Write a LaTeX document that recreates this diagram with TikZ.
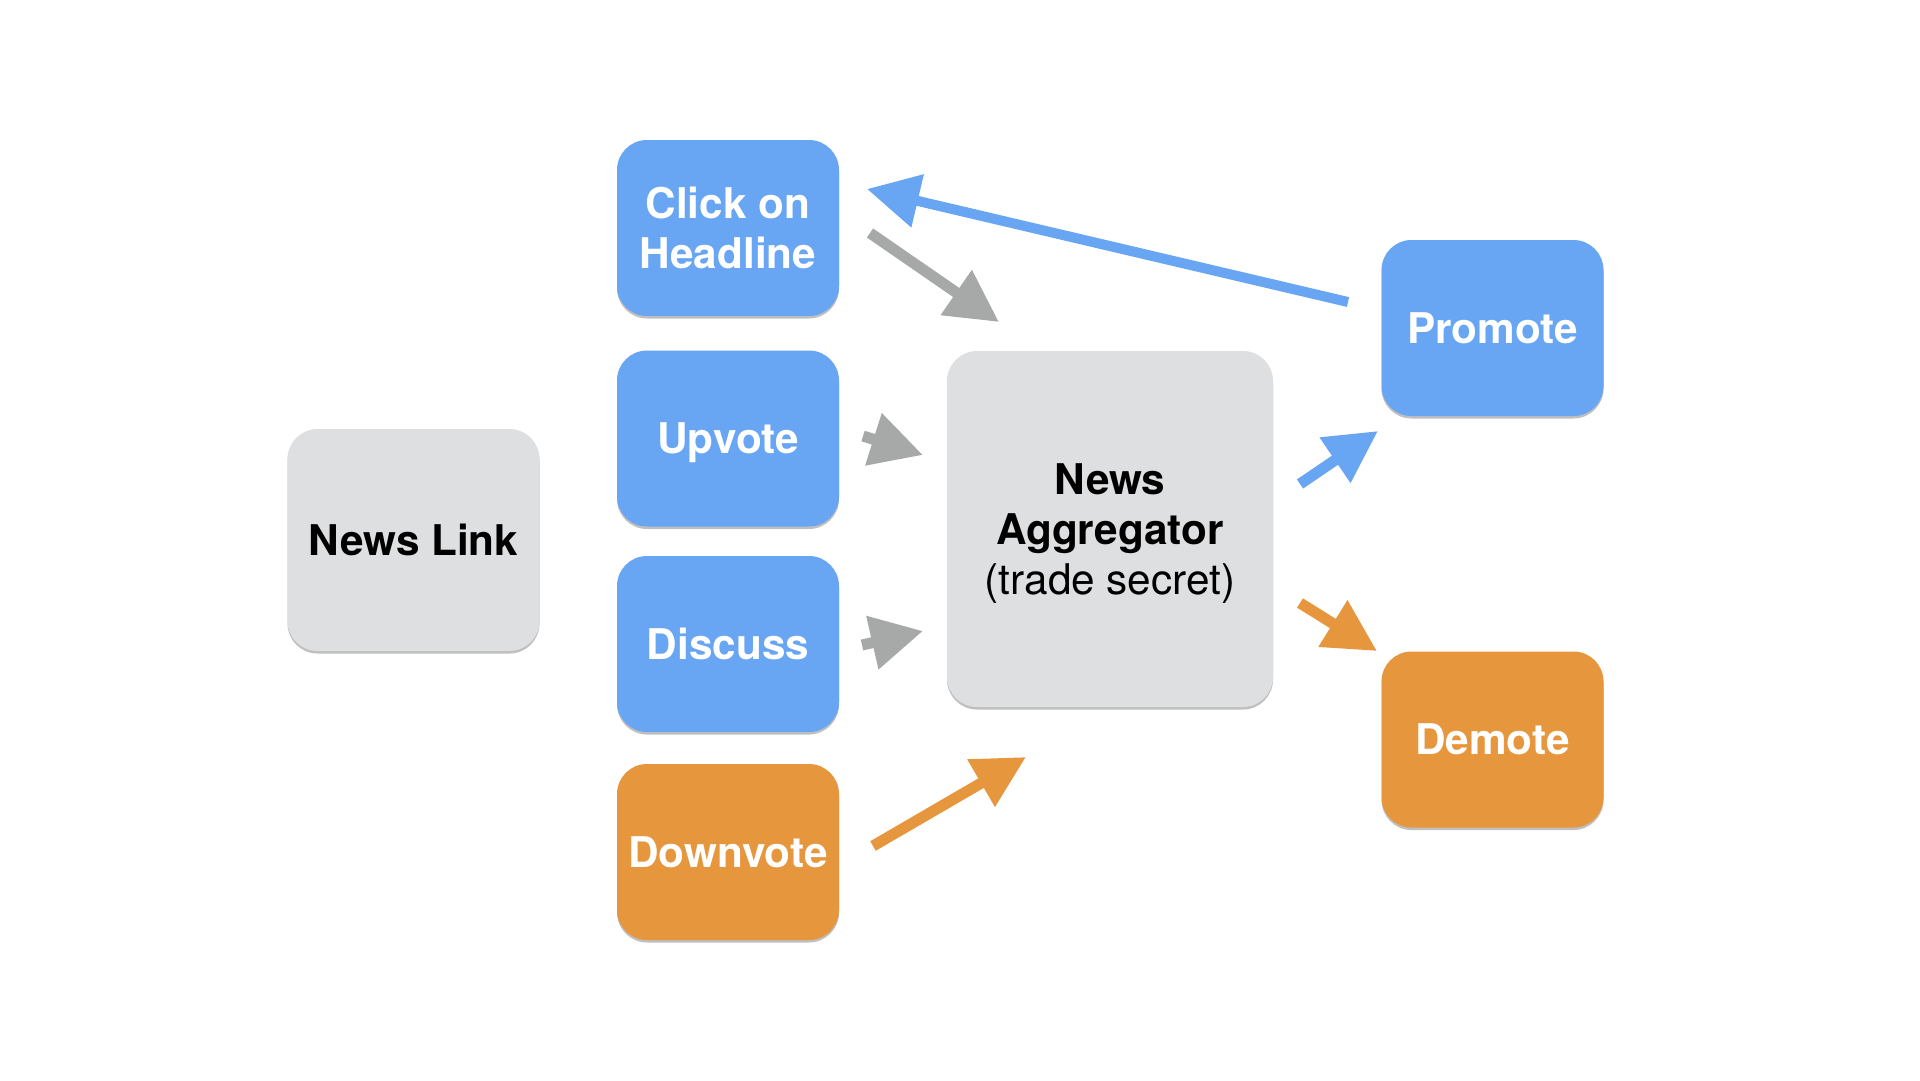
\documentclass[tikz,border=0pt]{standalone}
\usepackage{fontspec}
\setmainfont{TeX Gyre Heros}
\usetikzlibrary{arrows.meta,shadows}
\definecolor{boxblue}{RGB}{104,165,242}
\definecolor{boxorange}{RGB}{230,150,60}
\definecolor{boxgray}{RGB}{222,223,225}
\definecolor{arrgray}{RGB}{167,169,168}
\tikzset{
  card/.style={rounded corners=30pt, inner sep=0pt, align=center,
    font=\fontsize{42.3}{50}\selectfont\bfseries,
    drop shadow={shadow xshift=0pt, shadow yshift=-2.5pt, opacity=0.25, fill=black}},
  bluecard/.style={card, fill=boxblue, text=white, minimum width=222pt, minimum height=176pt},
  orangecard/.style={card, fill=boxorange, text=white, minimum width=222pt, minimum height=176pt},
  graycard/.style={card, fill=boxgray, text=black},
  flow/.style={line width=11pt, -{Triangle[length=52pt,width=52pt]}},
}
\begin{document}
\begin{tikzpicture}[x=1pt,y=-1pt]
\useasboundingbox[fill=white] (0,0) rectangle (1920,1080);
% nodes
\node[graycard, minimum width=252pt, minimum height=222pt] (link) at (413.5,540) {News Link};
\node[bluecard] (click) at (728,228) {Click on\\Headline};
\node[bluecard] (up) at (728,438.5) {U\smash{p}vote};
\node[bluecard] (disc) at (728,644) {Discuss};
\node[orangecard] (down) at (728,852) {Downvote};
\node[graycard, minimum width=326pt, minimum height=356pt] (agg) at (1110,529) {News\\Aggregator\\\smash{\mdseries(trade secret)}};
\node[bluecard] (prom) at (1492.5,328) {Promote};
\node[orangecard] (dem) at (1492.5,739.5) {Demote};
% connector end points
\coordinate (p1) at (1348,302);
\coordinate (p2) at (867,189);
\coordinate (c1) at (870,233);
\coordinate (c2) at (999,322);
\coordinate (u1) at (863,436);
\coordinate (u2) at (923,455);
\coordinate (d1) at (862,645);
\coordinate (d2) at (923,631);
\coordinate (v1) at (873,846);
\coordinate (v2) at (1026,757);
\coordinate (a1) at (1300,484);
\coordinate (a2) at (1378,431);
\coordinate (b1) at (1300,603);
\coordinate (b2) at (1377,651);
% connectors
\draw[flow, draw=boxblue, line width=10pt] (p1) -- (p2);
\draw[flow, draw=arrgray] (c1) -- (c2);
\draw[flow, draw=arrgray] (u1) -- (u2);
\draw[flow, draw=arrgray] (d1) -- (d2);
\draw[flow, draw=boxorange] (v1) -- (v2);
\draw[flow, draw=boxblue] (a1) -- (a2);
\draw[flow, draw=boxorange] (b1) -- (b2);
\end{tikzpicture}
\end{document}
